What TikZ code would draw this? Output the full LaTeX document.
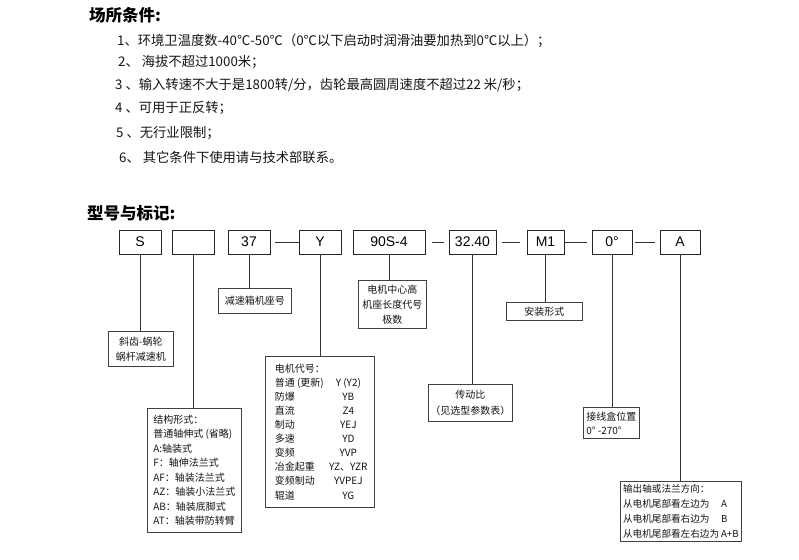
\documentclass[tikz,border=0pt]{standalone}
\usepackage{fontspec}
\setmainfont{Noto Sans CJK SC}
\newfontfamily\lat{Liberation Sans}
\begin{document}
\begin{tikzpicture}[x=1pt,y=-1pt,
  tbox/.style={draw=black!85, line width=0.9pt, minimum height=24pt, inner sep=0pt, font=\lat\fontsize{14}{14}\selectfont},
  lbox/.style={draw=black!75, line width=0.7pt, inner sep=0pt, anchor=north west, text=black!92, font=\fontsize{10}{14.5}\selectfont},
  conn/.style={draw=black!80, line width=0.8pt},
  ttl/.style={anchor=west, inner sep=0pt, font=\bfseries\fontsize{16.5}{17}\selectfont},
  cond/.style={anchor=west, inner sep=0pt, text=black!92, font=\fontsize{13.3}{13.3}\selectfont}]
\useasboundingbox (0,0) rectangle (799,559);

% ---- conditions ----
\node[ttl] (title1) at (89,15) {场所条件:};
\node[cond] (c1) at (117,41) {1、环境卫温度数-40℃-50℃（0℃以下启动时润滑油要加热到0℃以上）；};
\node[cond] (c2) at (118,62) {2、 海拔不超过1000米；};
\node[cond] (c3) at (115,85) {3 、输入转速不大于是1800转/分，齿轮最高圆周速度不超过22 米/秒；};
\node[cond] (c4) at (115,108) {4 、可用于正反转；};
\node[cond] (c5) at (116,133) {5 、无行业限制；};
\node[cond] (c6) at (119,157) {6、 其它条件下使用请与技术部联系。};

% ---- model code ----
\node[ttl] (title2) at (87,213) {型号与标记:};

\node[tbox, minimum width=42pt] (bS) at (140,242) {S};
\node[tbox, minimum width=42pt] (bB) at (193,242) {};
\node[tbox, minimum width=42pt] (b37) at (249,242) {37};
\node[tbox, minimum width=42pt] (bY) at (320,242) {Y};
\node[tbox, minimum width=72pt] (b90) at (389,242) {90S-4};
\node[tbox, minimum width=47pt] (b32) at (472.5,242) {32.40};
\node[tbox, minimum width=37pt] (bM1) at (545.5,242) {M1};
\node[tbox, minimum width=40pt] (b0) at (612,242) {0°};
\node[tbox, minimum width=40pt] (bA) at (680,242) {A};

\draw[conn, shorten <=5pt] (b37) -- (bY);
\draw[conn, shorten <=7pt, shorten >=5pt] (b90) -- (b32);
\draw[conn, shorten <=6pt, shorten >=7pt] (b32) -- (bM1);
\draw[conn, shorten >=5pt] (bM1) -- (b0);
\draw[conn, shorten <=3pt, shorten >=5pt] (b0) -- (bA);

% ---- label boxes ----
\node[lbox, minimum width=65pt, minimum height=35pt, align=center, font=\fontsize{10}{15}\selectfont] (lS) at (108,331) {斜齿-蜗轮\\蜗杆减速机};

\node[lbox, minimum width=94pt, minimum height=124pt, align=left] (lB) at (147,408)
 {结构形式：\\普通轴伸式 (省略)\\A:轴装式\\F：轴伸法兰式\\AF：轴装法兰式\\AZ：轴装小法兰式\\AB：轴装底脚式\\AT：轴装带防转臂};

\node[lbox, minimum width=73pt, minimum height=25pt] (l37) at (218,288) {减速箱机座号};

\node[lbox, minimum width=109pt, minimum height=151pt, align=left, font=\fontsize{10}{14.1}\selectfont] (lY) at (265,356)
 {电机代号：\\
  \makebox[57pt][l]{普通 (更新)}\makebox[33pt][c]{Y (Y2)}\\
  \makebox[57pt][l]{防爆}\makebox[33pt][c]{YB}\\
  \makebox[57pt][l]{直流}\makebox[33pt][c]{Z4}\\
  \makebox[57pt][l]{制动}\makebox[33pt][c]{YEJ}\\
  \makebox[57pt][l]{多速}\makebox[33pt][c]{YD}\\
  \makebox[57pt][l]{变频}\makebox[33pt][c]{YVP}\\
  \makebox[57pt][l]{冶金起重}\makebox[33pt][c]{YZ、YZR}\\
  \makebox[57pt][l]{变频制动}\makebox[33pt][c]{YVPEJ}\\
  \makebox[57pt][l]{辊道}\makebox[33pt][c]{YG}};

\node[lbox, minimum width=68pt, minimum height=48pt, align=center, font=\fontsize{10}{15}\selectfont] (l90) at (358,280) {电机中心高\\机座长度代号\\极数};

\node[lbox, minimum width=84pt, minimum height=37pt, align=center, font=\fontsize{10}{16}\selectfont] (l32) at (428,384) {传动比\\（见选型参数表）};

\node[lbox, minimum width=76pt, minimum height=18pt] (lM1) at (506,302) {安装形式};

\node[lbox, minimum width=56pt, minimum height=31pt, align=left, font=\fontsize{10}{14}\selectfont] (l0) at (583,407) {接线盒位置\\0° -270°};

\node[lbox, minimum width=121pt, minimum height=60pt, align=left, font=\fontsize{9.6}{15.3}\selectfont] (lA) at (620,481)
 {输出轴或法兰方向：\\
  \makebox[98pt][l]{从电机尾部看左边为}A\\
  \makebox[98pt][l]{从电机尾部看右边为}B\\
  \makebox[98pt][l]{从电机尾部看左右边为}A+B};

% ---- vertical leaders ----
\draw[conn] (bS) -- (bS |- lS.north);
\draw[conn] (bB) -- (bB |- lB.north);
\draw[conn] (b37) -- (b37 |- l37.north);
\draw[conn] (bY) -- (bY |- lY.north);
\draw[conn] (b90) -- (b90 |- l90.north);
\draw[conn] (b32) -- (b32 |- l32.north);
\draw[conn] (bM1) -- (bM1 |- lM1.north);
\draw[conn] (b0) -- (b0 |- l0.north);
\draw[conn] (bA) -- (bA |- lA.north);
\end{tikzpicture}
\end{document}
